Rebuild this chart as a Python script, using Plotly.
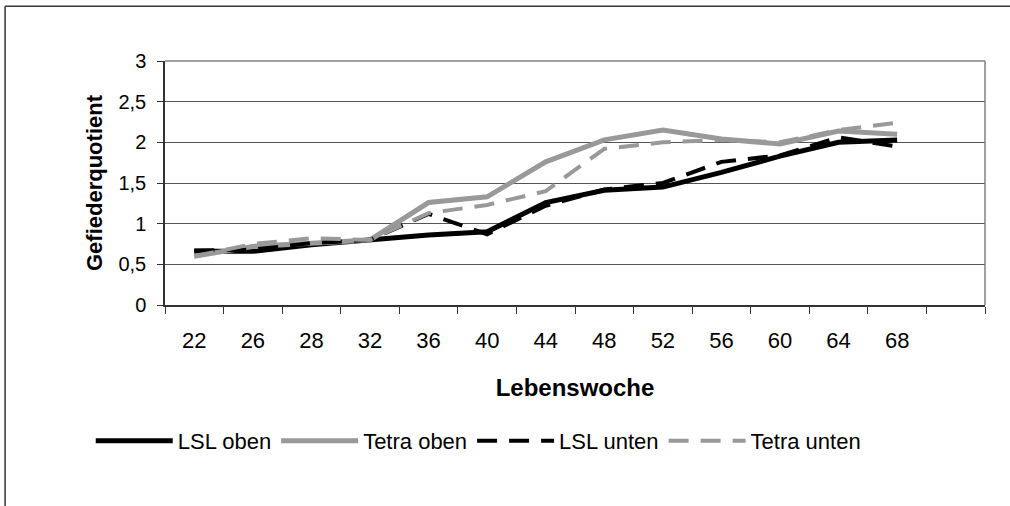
import plotly.graph_objects as go

weeks = ["22", "26", "28", "32", "36", "40", "44", "48", "52", "56", "60", "64", "68"]
axis_categories = weeks + [" "]

lsl_oben = [0.66, 0.66, 0.74, 0.80, 0.86, 0.90, 1.26, 1.41, 1.45, 1.63, 1.83, 2.00, 2.03]
tetra_oben = [0.60, 0.72, 0.76, 0.80, 1.26, 1.33, 1.76, 2.03, 2.15, 2.04, 1.98, 2.14, 2.10]
lsl_unten = [0.67, 0.68, 0.76, 0.80, 1.12, 0.87, 1.22, 1.42, 1.50, 1.76, 1.84, 2.06, 1.95]
tetra_unten = [0.60, 0.75, 0.82, 0.80, 1.13, 1.23, 1.40, 1.92, 2.00, 2.03, 2.00, 2.15, 2.24]

y_ticks = [0, 0.5, 1, 1.5, 2, 2.5, 3]
y_ticktext = ["0", "0,5", "1", "1,5", "2", "2,5", "3"]

FONT = "Liberation Sans, Arial, sans-serif"
BLACK = "#000000"
GRAY = "#999999"

fig = go.Figure()
fig.add_trace(go.Scatter(x=weeks, y=lsl_oben, name="LSL oben", mode="lines",
                         line=dict(color=BLACK, width=5)))
fig.add_trace(go.Scatter(x=weeks, y=tetra_oben, name="Tetra oben", mode="lines",
                         line=dict(color=GRAY, width=5)))
fig.add_trace(go.Scatter(x=weeks, y=lsl_unten, name="LSL unten", mode="lines",
                         line=dict(color=BLACK, width=4, dash="20px,12px")))
fig.add_trace(go.Scatter(x=weeks, y=tetra_unten, name="Tetra unten", mode="lines",
                         line=dict(color=GRAY, width=4, dash="20px,12px")))

fig.update_layout(
    width=1010, height=506,
    margin=dict(l=165, r=25, t=61, b=201),
    paper_bgcolor="white", plot_bgcolor="white",
    font=dict(family=FONT, color="black"),
    showlegend=True,
    legend=dict(orientation="h", x=0.382, xanchor="center", y=-0.557, yanchor="middle",
                font=dict(size=22, family=FONT), itemwidth=77,
                traceorder="normal", bgcolor="rgba(0,0,0,0)"),
    xaxis=dict(
        type="category", categoryorder="array", categoryarray=axis_categories,
        range=[-0.5, len(axis_categories) - 0.5],
        tickson="boundaries", ticks="outside", ticklen=7, tickcolor="#333333",
        showline=True, linecolor="#333333", linewidth=1.5, mirror=False,
        showgrid=False, zeroline=False, automargin=False,
        tickfont=dict(size=22, family=FONT), ticklabelstandoff=15,
        title=dict(text="<b>Lebenswoche</b>", font=dict(size=24, family=FONT), standoff=27),
    ),
    yaxis=dict(
        range=[0, 3], tickvals=y_ticks, ticktext=y_ticktext,
        ticks="outside", ticklen=6, tickcolor="#333333",
        showline=True, linecolor="#333333", linewidth=1.5,
        showgrid=True, gridcolor="#555555", gridwidth=1, zeroline=False, automargin=False,
        tickfont=dict(size=20, family=FONT), ticklabelstandoff=7,
        title=dict(text="<b>Gefiederquotient</b>", font=dict(size=22, family=FONT), standoff=10),
    ),
)

# plot area border (top and right, gray)
fig.add_shape(type="line", xref="paper", yref="paper", x0=0, x1=1, y0=1, y1=1,
              line=dict(color="#808080", width=1.5))
fig.add_shape(type="line", xref="paper", yref="paper", x0=1, x1=1, y0=0, y1=1,
              line=dict(color="#808080", width=1.5))
# outer chart frame: only top and left edges are visible in the page
fig.add_shape(type="line", xref="paper", yref="paper",
              x0=-0.195, x1=1.10, y0=1.224, y1=1.224,
              line=dict(color="#333333", width=1.5), layer="below")
fig.add_shape(type="line", xref="paper", yref="paper",
              x0=-0.195, x1=-0.195, y0=-0.95, y1=1.224,
              line=dict(color="#333333", width=1.5), layer="below")

fig.write_html("out.html", config={"displayModeBar": False},
               post_script="document.body.style.margin='0';document.body.style.overflow='hidden';")
